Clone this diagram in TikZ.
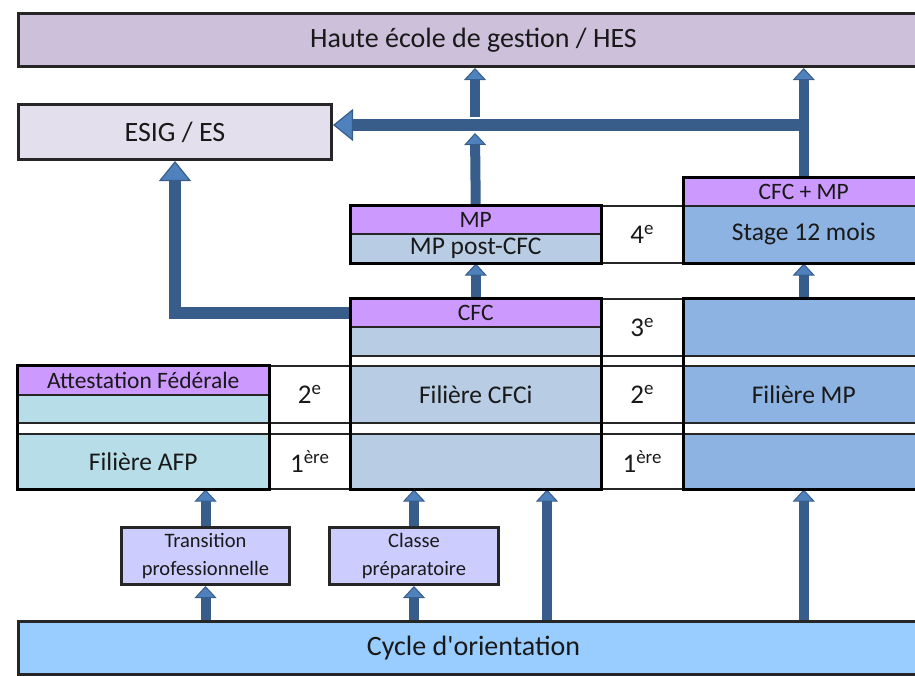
\documentclass[tikz,border=0pt]{standalone}
\usepackage{fontspec}
\setmainfont{Carlito}
\usepackage{tikz}
\usetikzlibrary{positioning, arrows.meta, calc}

\definecolor{hesfill}{HTML}{CCC0DA}
\definecolor{esfill}{HTML}{E4DFEC}
\definecolor{titlefill}{HTML}{CC99FF}
\definecolor{cfcfill}{HTML}{B8CCE4}
\definecolor{mpfill}{HTML}{8DB3E2}
\definecolor{afpfill}{HTML}{B7DEE8}
\definecolor{passfill}{HTML}{CCCCFF}
\definecolor{cofill}{HTML}{99CCFF}
\definecolor{arrowdark}{HTML}{385D8A}
\definecolor{arrowlight}{HTML}{4F81BD}

\tikzset{
    cell/.style={draw=black!85, line width=1.5pt, anchor=north west, inner sep=0pt, text=black!90},
    box/.style={cell, line width=3pt, align=center},
    frame/.style={draw=black, line width=3pt},
    bigtext/.style={font=\fontsize{28}{32}\selectfont},
    midtext/.style={font=\fontsize{25.5}{30}\selectfont},
    yeartext/.style={font=\fontsize{27}{30}\selectfont},
    smalltext/.style={font=\fontsize{23.5}{26}\selectfont},
    tinytext/.style={font=\fontsize{20.5}{28}\selectfont},
    flow/.style={draw=arrowdark, line width=10pt,
        -{Triangle[width=22pt, length=12pt, line width=1pt, fill=arrowlight]}},
    bigflow/.style={draw=arrowdark, line width=12pt,
        -{Triangle[width=32pt, length=20pt, line width=1.2pt, fill=arrowlight]}}
}

\begin{document}
\begin{tikzpicture}[x=1pt, y=-1pt]
    \useasboundingbox (0,0) rectangle (915,675);
    \clip (0,0) rectangle (915,675);

    % schools and entry boxes
    \foreach \name/\x/\y/\w/\h/\fnt/\col/\txt in {
        hes/17/12/910/53/bigtext/hesfill/{Haute école de gestion / HES},
        esig/17/103/313/55/bigtext/esfill/{ESIG / ES},
        trans/120/526/168/57/tinytext/passfill/{Transition\\professionnelle},
        prep/328/526/169/57/tinytext/passfill/{Classe\\préparatoire},
        co/17/620/910/53/bigtext/cofill/{Cycle d\textquotesingle orientation}}
    {
        \node[box, \fnt, fill=\col, minimum width=\w, minimum height=\h] (\name) at (\x,\y) {\txt};
    }

    % table of years
    \foreach \name/\x/\y/\w/\h/\fnt/\col/\txt in {
        mp/350/205/250/28/smalltext/titlefill/MP,
        mppost/350/233/250/29/midtext/cfcfill/{MP post-CFC},
        yfour/600/205/83/57/yeartext/white/{4\textsuperscript{e}},
        cfcmp/683/177/240/28/smalltext/titlefill/{CFC + MP},
        stage/683/205/240/57/midtext/mpfill/{Stage 12 mois},
        cfc/350/298/250/28/smalltext/titlefill/CFC,
        cfcithree/350/326/250/29/midtext/cfcfill/{},
        ythree/600/298/83/57/yeartext/white/{3\textsuperscript{e}},
        mpthree/683/298/240/57/midtext/mpfill/{},
        gapa/350/355/250/10/tinytext/white/{},
        gapb/600/355/83/10/tinytext/white/{},
        gapc/683/355/240/10/tinytext/white/{},
        af/17/365/251/29/smalltext/titlefill/{Attestation Fédérale},
        afptwo/17/394/251/28/midtext/afpfill/{},
        ytwoa/268/365/82/57/yeartext/white/{2\textsuperscript{e}},
        cfcitwo/350/365/250/57/midtext/cfcfill/{Filière CFCi},
        ytwob/600/365/83/57/yeartext/white/{2\textsuperscript{e}},
        mptwo/683/365/240/57/midtext/mpfill/{Filière MP},
        gapd/17/422/251/11/tinytext/white/{},
        gape/268/422/82/11/tinytext/white/{},
        gapf/350/422/250/11/tinytext/white/{},
        gapg/600/422/83/11/tinytext/white/{},
        gaph/683/422/240/11/tinytext/white/{},
        afp/17/433/251/55/midtext/afpfill/{Filière AFP},
        yonea/268/433/82/55/yeartext/white/{1\textsuperscript{ère}},
        cfcione/350/433/250/55/midtext/cfcfill/{},
        yoneb/600/433/83/55/yeartext/white/{1\textsuperscript{ère}},
        mpone/683/433/240/55/midtext/mpfill/{}}
    {
        \node[cell, \fnt, fill=\col, minimum width=\w, minimum height=\h] (\name) at (\x,\y) {\txt};
    }

    % arrows
    \coordinate (orient) at (547,620);
    \coordinate (bar) at (800,125);
    \coordinate (barlow) at (475,133);
    \coordinate (barhigh) at (475,117);

    \draw[flow] (trans.south |- co.north) -- (trans.south);
    \draw[flow] (trans.north) -- (trans.north |- afp.south);
    \draw[flow] (prep.south |- co.north) -- (prep.south);
    \draw[flow] (prep.north) -- (prep.north |- cfcione.south);
    \draw[flow] (orient) -- (orient |- cfcione.south);
    \draw[flow] (mpone.south |- co.north) -- (mpone.south);
    \draw[flow] (mpthree.north) -- (mpthree.north |- stage.south);
    \draw[flow] (cfc.north) -- (cfc.north |- mppost.south);
    \draw[bigflow] (cfc.west) -| (esig.south);
    \draw[flow] (cfcmp.north) -- (cfcmp.north |- hes.south);
    \draw[bigflow] (cfcmp.north |- bar) -- (esig.east |- bar);
    \draw[flow] (mp.north) -- (barlow);
    \draw[flow] (barhigh) -- (barhigh |- hes.south);

    % block borders
    \draw[frame] (mp.north west) rectangle (mppost.south east);
    \draw[frame] (cfcmp.north west) rectangle (stage.south east);
    \draw[frame] (cfc.north west) rectangle (cfcione.south east);
    \draw[frame] (mpthree.north west) rectangle (mpone.south east);
    \draw[frame] (af.north west) rectangle (afp.south east);
\end{tikzpicture}
\end{document}
